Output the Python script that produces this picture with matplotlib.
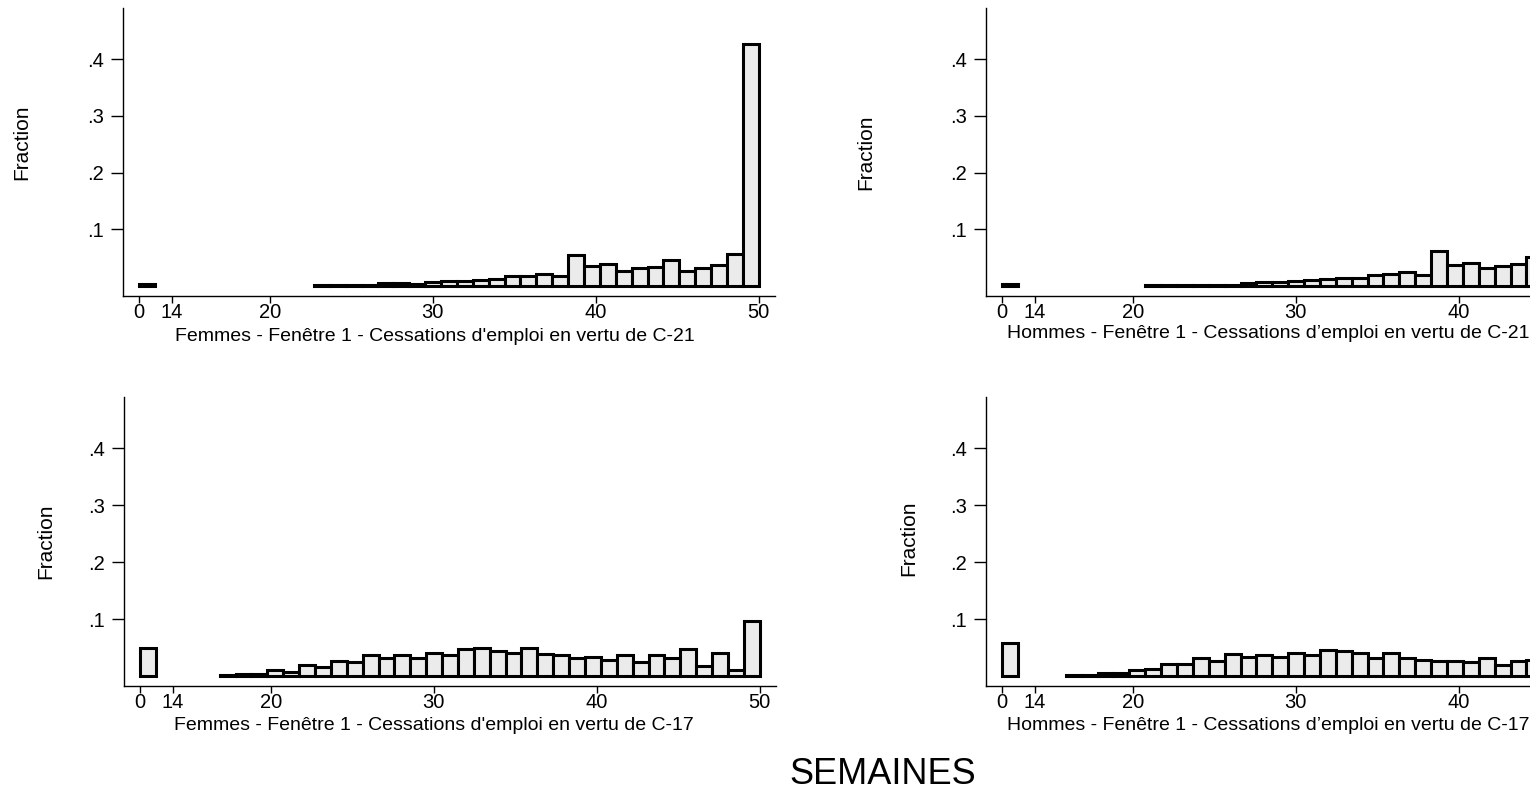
import numpy as np
import matplotlib
matplotlib.use("Agg")
import matplotlib.pyplot as plt

plt.rcParams["font.family"] = ["Liberation Sans", "DejaVu Sans"]

# 39 bins of equal width between 12 and 50; the first bin holds the 0-week group
bin_edges = np.linspace(12, 50, 40)
bin_width = bin_edges[1] - bin_edges[0]

tick_pos = [12, 14, 20, 30, 40, 50]
tick_labels = ["0", "14", "20", "30", "40", "50"]

# Femmes - C-21 (bins 11..38)
femmes_c21_zero = 0.003
femmes_c21_start = 11
femmes_c21 = [0.002, 0.002, 0.002, 0.002, 0.006, 0.006, 0.004, 0.007, 0.009,
              0.009, 0.011, 0.013, 0.018, 0.018, 0.021, 0.018, 0.054, 0.035,
              0.039, 0.026, 0.031, 0.034, 0.046, 0.026, 0.031, 0.037, 0.056,
              0.427]

# Hommes - C-21 (bins 9..33)
hommes_c21_zero = 0.003
hommes_c21_start = 9
hommes_c21 = [0.001, 0.001, 0.0015, 0.002, 0.002, 0.002, 0.005, 0.007, 0.007,
              0.009, 0.011, 0.013, 0.015, 0.015, 0.020, 0.022, 0.025, 0.020,
              0.061, 0.037, 0.041, 0.031, 0.035, 0.038, 0.052]

# Femmes - C-17 (bins 5..38)
femmes_c17_zero = 0.050
femmes_c17_start = 5
femmes_c17 = [0.002, 0.003, 0.004, 0.010, 0.007, 0.019, 0.016, 0.027, 0.025,
              0.036, 0.031, 0.036, 0.031, 0.040, 0.036, 0.047, 0.049, 0.043,
              0.040, 0.049, 0.039, 0.037, 0.031, 0.034, 0.028, 0.037, 0.025,
              0.036, 0.031, 0.047, 0.017, 0.040, 0.011, 0.097]

# Hommes - C-17 (bins 4..33)
hommes_c17_zero = 0.058
hommes_c17_start = 4
hommes_c17 = [0.001, 0.001, 0.005, 0.006, 0.011, 0.013, 0.021, 0.021, 0.031,
              0.027, 0.039, 0.034, 0.037, 0.034, 0.041, 0.037, 0.046, 0.044,
              0.041, 0.032, 0.041, 0.031, 0.028, 0.026, 0.026, 0.024, 0.032,
              0.019, 0.027, 0.028]

W, H = 1530, 796

panels = [
    # (rect in figure fraction, zero value, first bin, values, x label, label pos, ylabel pos, last tick)
    ([123 / W, 500 / H, 652 / W, 288 / H], femmes_c21_zero, femmes_c21_start, femmes_c21,
     "Femmes - Fenêtre 1 - Cessations d'emploi en vertu de C-21", (435, 336), (22, 142), 6),
    ([986 / W, 500 / H, 652 / W, 288 / H], hommes_c21_zero, hommes_c21_start, hommes_c21,
     "Hommes - Fenêtre 1 - Cessations d’emploi en vertu de C-21", (1268, 333), (866, 152), 5),
    ([124 / W, 110 / H, 652 / W, 289 / H], femmes_c17_zero, femmes_c17_start, femmes_c17,
     "Femmes - Fenêtre 1 - Cessations d'emploi en vertu de C-17", (434, 726), (46, 541), 6),
    ([986 / W, 110 / H, 652 / W, 289 / H], hommes_c17_zero, hommes_c17_start, hommes_c17,
     "Hommes - Fenêtre 1 - Cessations d’emploi en vertu de C-17", (1268, 726), (909, 538), 5),
]

fig = plt.figure(figsize=(15.3, 7.96), dpi=100)

for rect, zero, start, vals, xlab, xlab_pos, ylab_pos, nticks in panels:
    ax = fig.add_axes(rect)
    heights = [zero] + list(vals)
    lefts = [bin_edges[0]] + list(bin_edges[start:start + len(vals)])
    ax.bar(lefts, heights, width=bin_width, align="edge", color="#ebebeb",
           edgecolor="black", linewidth=2.2)

    ax.set_xlim(11, 51)
    ax.set_ylim(-0.0176, 0.49)
    ax.set_xticks(tick_pos[:nticks])
    ax.set_xticklabels(tick_labels[:nticks])
    ax.set_yticks([0.1, 0.2, 0.3, 0.4])
    ax.set_yticklabels([".1", ".2", ".3", ".4"])
    ax.tick_params(axis="x", length=5, width=1, labelsize=14.5, pad=0)
    ax.tick_params(axis="y", length=9, width=1, labelsize=14.5, pad=5)

    for side in ("top", "right"):
        ax.spines[side].set_visible(False)
    for side in ("left", "bottom"):
        ax.spines[side].set_linewidth(1)

    fig.text(xlab_pos[0] / W, 1 - xlab_pos[1] / H, xlab, ha="center", va="center", fontsize=14)
    fig.text(ylab_pos[0] / W, 1 - ylab_pos[1] / H, "Fraction", ha="center", va="center",
             rotation=90, fontsize=15)

fig.text(883 / W, 1 - 775 / H, "SEMAINES", ha="center", va="center", fontsize=26)

fig.savefig("out.png", dpi=100)
